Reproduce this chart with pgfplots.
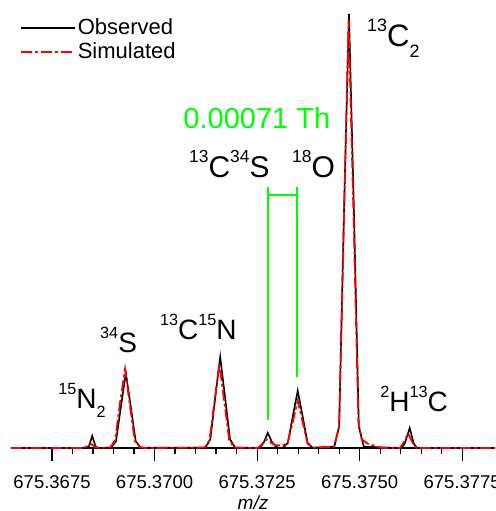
\documentclass[border=0pt]{standalone}
\usepackage{fontspec}
\setmainfont{Liberation Sans}
\usepackage{pgfplots}
\pgfplotsset{compat=1.18}

% isotope super/subscripts, sized from the surrounding font
\newcommand\su[1]{\raisebox{0.5em}{\fontsize{0.58em}{0.58em}\selectfont #1}}
\newcommand\sd[1]{\raisebox{-0.35em}{\fontsize{0.58em}{0.58em}\selectfont #1}}

% x = (m/z - 675.3600) * 10^4
\pgfplotstableread{
x y
65 0
83.4 0
84.0 0.4
84.8 2.8
85.6 0.4
86.2 0
89.4 0.1
90.6 1.6
91.8 9.5
93.0 17.3
94.2 9.5
95.4 1.6
96.6 0.1
112.4 0.1
113.6 2.0
114.8 11.6
116.0 21.0
117.2 11.6
118.4 2.0
119.6 0.1
125.6 0
126.6 1.2
127.6 3.5
128.6 1.4
129.4 0.5
130.2 0
131.3 0.07
132.5 1.2
133.7 7.3
134.9 13.2
136.1 7.3
137.3 1.2
138.5 0.07
143.8 0.3
145.0 5.0
146.2 55
147.4 100
148.6 55
149.8 5.0
151.0 0.3
160.2 0
161.0 1.0
162.2 4.6
163.2 1.0
164.0 0
183 0
}\observed

\pgfplotstableread{
x y
65 0
82.8 0
83.8 0.6
84.4 1.0
85.4 0.3
86.4 0
89.2 0.1
90.4 1.8
91.6 10.5
92.8 18.2
94.0 9.8
95.2 1.6
96.4 0.2
97.6 0
112.2 0.1
113.4 1.8
114.6 10.7
115.8 19.4
117.0 10.7
118.2 1.8
119.4 0.1
125.2 0
126.2 0.9
127.2 2.0
128.4 1.2
129.6 0.6
131.0 0.6
132.4 1.0
133.7 6.0
134.9 10.9
136.1 6.0
137.3 1.0
138.5 0.1
143.8 0.3
145.0 5.0
146.2 54
147.3 98.6
148.5 54
149.7 6.0
150.5 2.0
152.0 1.0
155.0 0.1
156.0 0
159.8 0
160.8 1.3
161.8 3.4
162.9 1.2
163.8 0
183 0
}\simulated

\begin{document}
\begin{tikzpicture}
\begin{axis}[
  scale only axis, width=484pt, height=448pt,
  xmin=65, xmax=183, ymin=0, ymax=103.2,
  axis x line*=bottom, axis y line=none,
  xtick={75,100,125,150,175},
  xticklabels={675.3675,675.3700,675.3725,675.3750,675.3775},
  minor x tick num=4, ytick=\empty,
  tick align=outside,
  major tick length=13pt, minor tick length=6pt,
  every tick/.style={black, line width=1.2pt},
  axis line style={line width=1.1pt},
  xticklabel style={font=\fontsize{18.5}{19}\selectfont, text height=24pt},
  xlabel={\textit{m/z}},
  xlabel style={font=\fontsize{19}{19}\selectfont},
  legend style={at={(axis description cs:0.012,0.967)}, anchor=north west,
    draw=none, fill=none, font=\fontsize{22}{23}\selectfont,
    row sep=2.5pt},
  legend cell align=left,
  legend image code/.code={\draw[#1] (0pt,0pt) -- (54pt,0pt);},
]
\addlegendimage{black, line width=1.6pt}
\addlegendentry{Observed}
\addlegendimage{red, line width=1.8pt, dash pattern=on 11pt off 3pt on 3pt off 3pt}
\addlegendentry{Simulated}
\addplot[black, line width=1.6pt, forget plot] table {\observed};
\addplot[red, line width=1.8pt, dash pattern=on 11pt off 3pt on 3pt off 3pt, forget plot] table {\simulated};

\draw[green, line width=2pt] (axis cs:127.6,6.5) -- (axis cs:127.6,60.1);
\draw[green, line width=2pt] (axis cs:134.7,16.4) -- (axis cs:134.7,60.1);
\draw[green, line width=2pt] (axis cs:127.6,58.3) -- (axis cs:134.7,58.3);
\node[anchor=base west, inner sep=0, text=green, font=\fontsize{29}{29}\selectfont]
  at (axis cs:107.0,73.7) {0.00071 Th};

\node[anchor=base west, inner sep=0, font=\fontsize{28}{28}\selectfont]
  at (axis cs:76.5,9.2) {\su{15}N\sd{2}};
\node[anchor=base west, inner sep=0, font=\fontsize{28}{28}\selectfont]
  at (axis cs:86.7,21.9) {\su{34}S};
\node[anchor=base west, inner sep=0, font=\fontsize{28}{28}\selectfont]
  at (axis cs:101.3,24.9) {\su{13}C\su{15}N};
\node[anchor=base west, inner sep=0, font=\fontsize{30}{30}\selectfont]
  at (axis cs:108.4,62.4) {\su{13}C\su{34}S};
\node[anchor=base west, inner sep=0, font=\fontsize{30}{30}\selectfont]
  at (axis cs:133.5,62.4) {\su{18}O};
\node[anchor=base west, inner sep=0, font=\fontsize{31}{31}\selectfont]
  at (axis cs:151.8,92.4) {\su{13}C\sd{2}};
\node[anchor=base west, inner sep=0, font=\fontsize{28}{28}\selectfont]
  at (axis cs:155.0,8.3) {\su{2}H\su{13}C};
\end{axis}
\pgfresetboundingbox
\useasboundingbox (-11pt,-63pt) rectangle (484pt,448pt);
\end{tikzpicture}
\end{document}
